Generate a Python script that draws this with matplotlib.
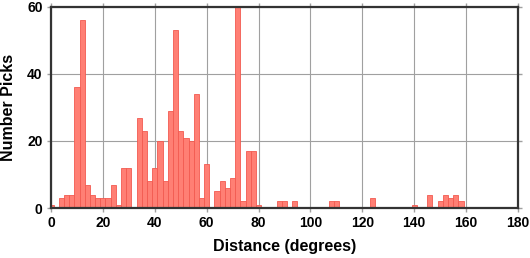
import numpy as np
import matplotlib.pyplot as plt

# Histogram of picks per 2-degree distance bin (bin centres in degrees)
bin_centers = np.arange(0, 160, 2)
counts = [
    1, 0, 3, 4, 4, 36, 56, 7, 4, 3,      # 0 - 18
    3, 3, 7, 1, 12, 12, 0, 27, 23, 8,    # 20 - 38
    12, 20, 8, 29, 53, 23, 21, 20, 34, 3,  # 40 - 58
    13, 0, 5, 8, 6, 9, 60, 2, 17, 17,    # 60 - 78
    1, 0, 0, 0, 2, 2, 0, 2, 0, 0,        # 80 - 98
    0, 0, 0, 0, 2, 2, 0, 0, 0, 0,        # 100 - 118
    0, 0, 3, 0, 0, 0, 0, 0, 0, 0,        # 120 - 138
    1, 0, 0, 4, 0, 2, 4, 3, 4, 2,        # 140 - 158
]
bin_width = 2

plt.rcParams['font.family'] = ['Liberation Sans', 'DejaVu Sans']
plt.rcParams['font.weight'] = 'bold'

fig = plt.figure(figsize=(5.3, 2.58), dpi=100)
ax = fig.add_axes([51 / 530, 1 - 208 / 258, 467 / 530, 201 / 258])

ax.bar(bin_centers, counts, width=bin_width, color='#ff7f74',
       edgecolor='#f25a50', linewidth=0.6, zorder=3)

ax.set_xlim(0, 180)
ax.set_ylim(0, 60)
ax.set_xticks(np.arange(0, 181, 20))
ax.set_yticks(np.arange(0, 61, 20))
ax.grid(True, color='#a0a0a0', linewidth=0.8, zorder=0)
ax.set_axisbelow(True)

for s in ax.spines.values():
    s.set_color('#333333')
    s.set_linewidth(1.6)
    s.set_zorder(5)

ax.tick_params(direction='out', length=3, width=1, color='#a0a0a0',
               labelsize=10, top=True, right=True, labeltop=False,
               labelright=False, pad=3)
for lab in ax.get_xticklabels() + ax.get_yticklabels():
    lab.set_fontweight('bold')

ax.set_xlabel("Distance (degrees)", fontsize=11.5, fontweight='bold', labelpad=6)
ax.set_ylabel("Number Picks", fontsize=11.5, fontweight='bold', labelpad=8)

fig.savefig("out.png", dpi=100)
